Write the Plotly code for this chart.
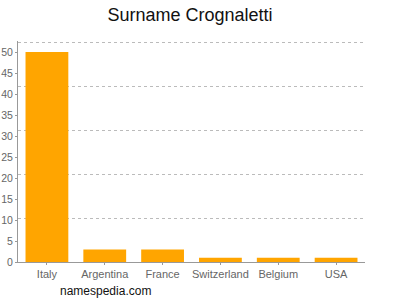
import plotly.graph_objects as go

countries = ["Italy", "Argentina", "France", "Switzerland", "Belgium", "USA"]
counts = [50, 3, 3, 1, 1, 1]
ytick_vals = [0, 5, 10, 15, 20, 25, 30, 35, 40, 45, 50]

ymax = 52.4
grid_vals = [ymax * k / 5 for k in range(1, 6)]
yrange = [0, 52.65]

fig = go.Figure()
fig.add_trace(go.Bar(x=countries, y=counts, marker_color="#FFA500", width=0.74,
                     marker_line_width=0))
fig.add_trace(go.Scatter(x=countries, y=[None]*6, yaxis="y2", showlegend=False,
                         hoverinfo="skip"))

fig.update_layout(
    width=400, height=300,
    margin=dict(l=18, r=35, t=41, b=38),
    paper_bgcolor="white", plot_bgcolor="white",
    showlegend=False,
    title=dict(text="Surname Crognaletti", x=0.475, xanchor="center", y=0.95, yanchor="middle",
               font=dict(family="Liberation Sans, Arial", size=18, color="#111")),
    font=dict(family="Liberation Sans, Arial", size=11, color="#666"),
    xaxis=dict(showline=True, linecolor="#999", linewidth=1, ticks="outside",
               ticklen=2, tickcolor="#999", showgrid=False, automargin=False,
               tickfont=dict(size=11, color="#666")),
    yaxis=dict(range=yrange, tickvals=ytick_vals, showline=True, linecolor="#999",
               linewidth=1, ticks="outside", ticklen=2, tickcolor="#999", automargin=False,
               showgrid=False, zeroline=False, tickfont=dict(size=10.5, color="#666")),
    yaxis2=dict(range=yrange, overlaying="y", side="right", tickvals=grid_vals,
                showticklabels=False, showgrid=True, gridcolor="#bbb", griddash="3px,3px",
                gridwidth=1, zeroline=False, showline=False, ticks="", automargin=False),
    bargap=0.26,
)
fig.add_annotation(text="namespedia.com", xref="paper", yref="paper", x=0.115, y=-0.132,
                   xanchor="left", yanchor="middle", showarrow=False,
                   font=dict(family="Liberation Sans, Arial", size=12, color="#111"))
fig.write_html("out.html")
